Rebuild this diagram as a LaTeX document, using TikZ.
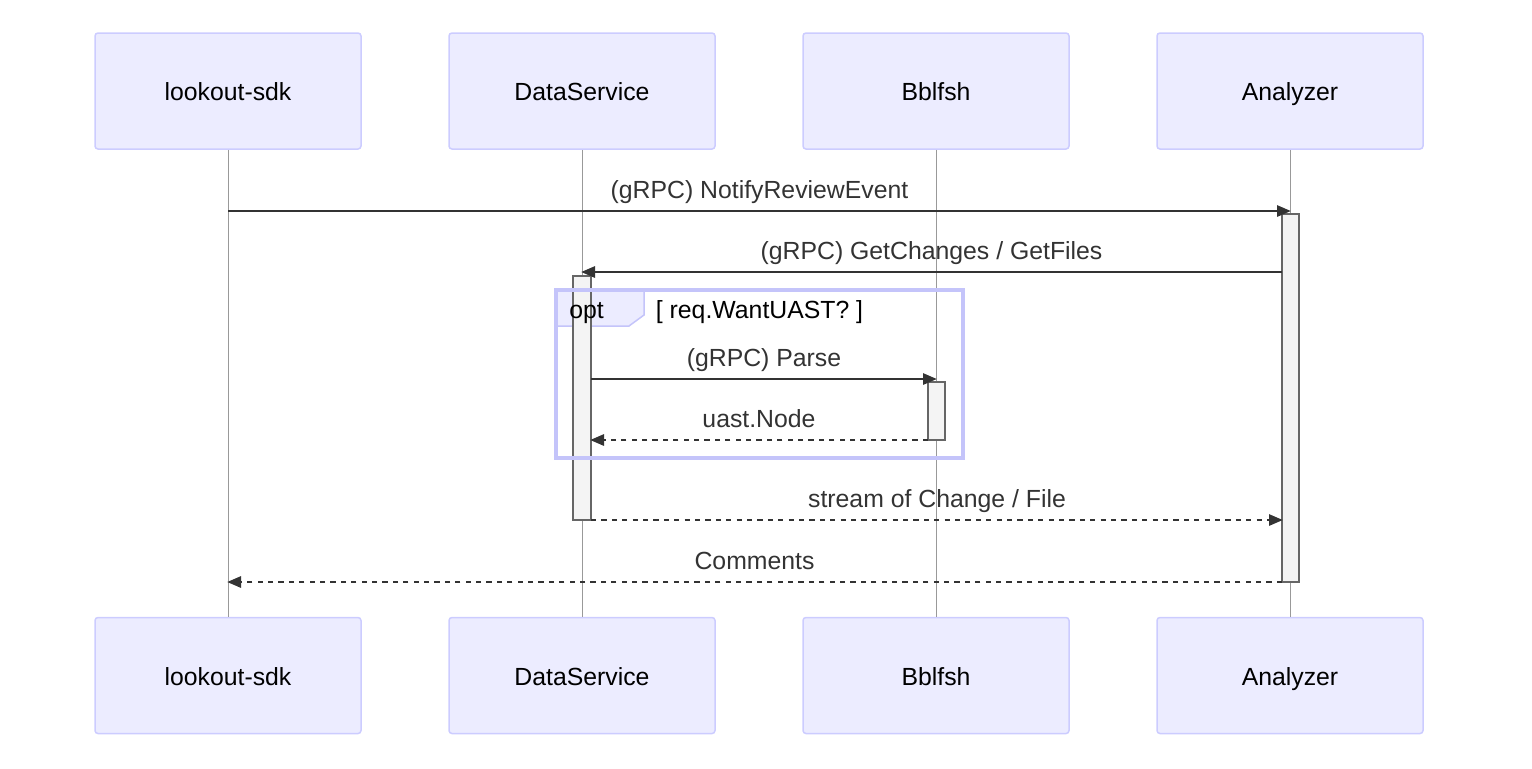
\documentclass[tikz,border=0pt]{standalone}
\usepackage{fontspec}
\setmainfont{Liberation Sans}
\usetikzlibrary{arrows.meta}
\definecolor{actfill}{HTML}{ECECFF}
\definecolor{actdraw}{HTML}{CCCCFF}
\definecolor{msgc}{HTML}{333333}
\definecolor{lifec}{HTML}{999999}
\definecolor{actvfill}{HTML}{F4F4F4}
\definecolor{actvdraw}{HTML}{666666}
\definecolor{loopc}{HTML}{C4C4FA}
\begin{document}
\begin{tikzpicture}[x=0.5pt,y=-0.5pt,
  actor/.style={draw=actdraw, fill=actfill, line width=0.75pt, rounded corners=1.5pt,
    minimum width=133pt, minimum height=58pt, inner sep=0pt},
  actortext/.style={font=\fontsize{12.4}{14}\selectfont, text=black, inner sep=0pt, anchor=base},
  lifeline/.style={draw=lifec, line width=0.5pt},
  msgline/.style={draw=msgc, line width=1.4pt, -{Triangle[length=7pt,width=5.5pt]}},
  reply/.style={msgline, dash pattern=on 2.6pt off 2.6pt},
  msglabel/.style={text=msgc, font=\fontsize{12.4}{14}\selectfont, inner sep=0pt, anchor=base, pos=0.5, yshift=6.5pt},
  activation/.style={draw=actvdraw, fill=actvfill, line width=0.75pt, inner sep=0pt},
]
\useasboundingbox (0,0) rectangle (1532,768);

% actor boxes (top)
\node[actor] (sdkT) at (228,91) {};
\node[actor] (dsT)  at (582,91) {};
\node[actor] (bbT)  at (936,91) {};
\node[actor] (anT)  at (1290,91) {};
% actor boxes (bottom)
\node[actor] (sdkB) at (228,675.5) {};
\node[actor] (dsB)  at (582,675.5) {};
\node[actor] (bbB)  at (936,675.5) {};
\node[actor] (anB)  at (1290,675.5) {};

\foreach \n/\t in {sdkT/lookout-sdk, dsT/DataService, bbT/Bblfsh, anT/Analyzer}
  \node[actortext] at ([yshift=-4.5pt]\n.center) {\t};
\foreach \n/\t in {sdkB/lookout-sdk, dsB/DataService, bbB/Bblfsh, anB/Analyzer}
  \node[actortext] at ([yshift=-4.75pt]\n.center) {\t};

% lifelines
\draw[lifeline] (sdkT.south) -- (sdkB.north);
\draw[lifeline] (dsT.south) -- (dsB.north);
\draw[lifeline] (bbT.south) -- (bbB.north);
\draw[lifeline] (anT.south) -- (anB.north);

% opt frame (area)
\coordinate (optNW) at (556,290);
\coordinate (optSE) at (963,458);
\filldraw[fill=actfill, draw=loopc, line width=0.75pt]
  (optNW) -- ++(88,0) -- ++(0,25) -- ++(-15,11) -- ++(-73,0) -- cycle;

% activations
\node[activation, minimum width=8.5pt, minimum height=184pt] (actA) at (1290.5,398) {};
\node[activation, minimum width=9pt, minimum height=122pt] (actD) at (582,398) {};
\node[activation, minimum width=8.5pt, minimum height=29pt] (actB) at (936.5,411) {};

% opt frame border and labels
\draw[draw=loopc, line width=1.7pt] (optNW) rectangle (optSE);
\node[actortext] (optlbl) at (586.5,318) {opt};
\node[actortext] (optcond) at (759.5,318) {[ req.WantUAST? ]};

% message endpoints
\coordinate (m1s) at (228,211);  \coordinate (m1e) at (1291,211);
\coordinate (m2s) at (1282,272); \coordinate (m2e) at (581,272);
\coordinate (m3s) at (591,379);  \coordinate (m3e) at (937,379);
\coordinate (m4s) at (928,440);  \coordinate (m4e) at (590,440);
\coordinate (m5s) at (591,520);  \coordinate (m5e) at (1283,520);
\coordinate (m6s) at (1282,582); \coordinate (m6e) at (227,582);

\draw[msgline] (m1s) -- node[msglabel] {(gRPC) NotifyReviewEvent} (m1e);
\draw[msgline] (m2s) -- node[msglabel] {(gRPC) GetChanges / GetFiles} (m2e);
\draw[msgline] (m3s) -- node[msglabel] {(gRPC) Parse} (m3e);
\draw[reply] (m4s) -- node[msglabel] {uast.Node} (m4e);
\draw[reply] (m5s) -- node[msglabel] {stream of Change / File} (m5e);
\draw[reply] (m6s) -- node[msglabel] {Comments} (m6e);
\end{tikzpicture}
\end{document}
